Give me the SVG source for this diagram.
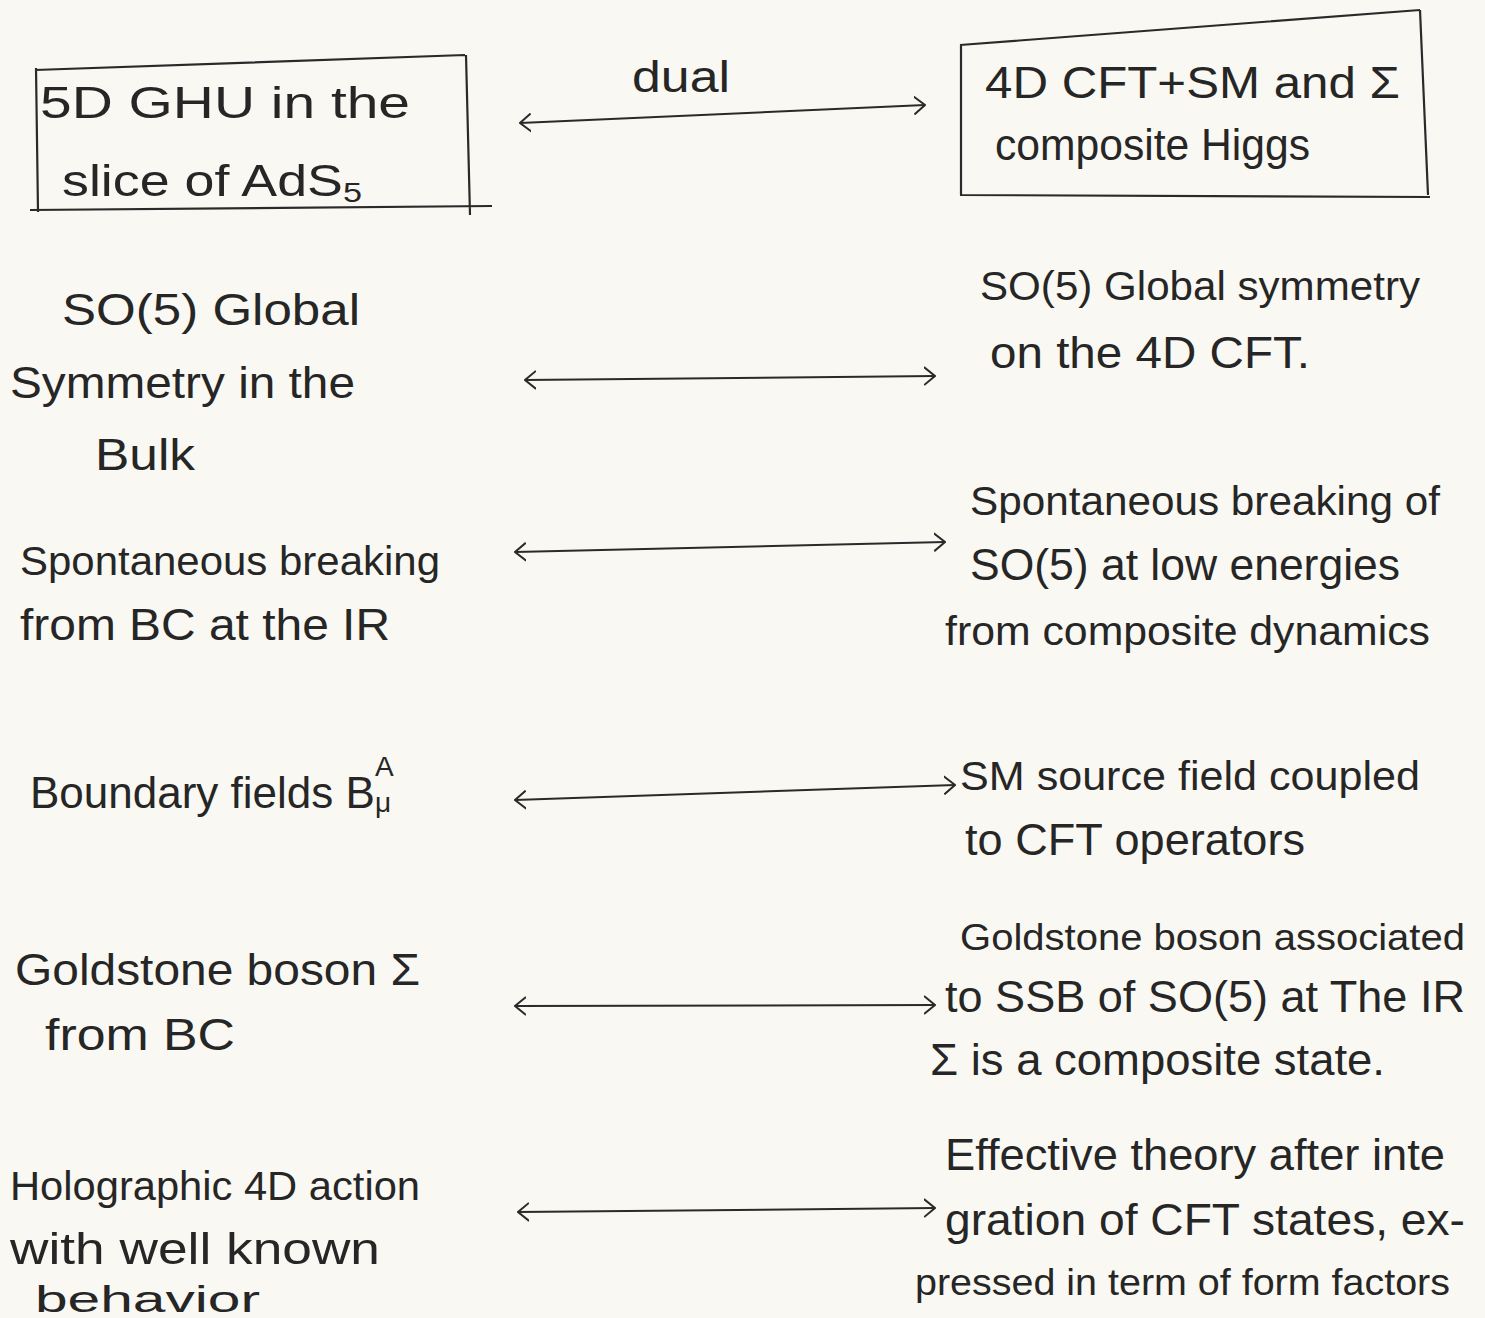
<svg xmlns="http://www.w3.org/2000/svg" width="1485" height="1318" viewBox="0 0 1485 1318">
<style>
text{font-family:"Liberation Sans","DejaVu Sans",sans-serif;font-size:44px;fill:#262626;}
.m{font-size:40px;}
.s{font-size:37px;}
.box{fill:none;stroke:#2a2a2a;stroke-width:2.2;stroke-linejoin:round;}
.conn{fill:none;stroke:#2a2a2a;stroke-width:2;}
.sm{font-size:28px;}
</style>
<defs>
<marker id="chev" viewBox="0 0 12 20" refX="11" refY="10" markerWidth="12" markerHeight="20" markerUnits="userSpaceOnUse" orient="auto-start-reverse">
<path d="M0,1 L11,10 L0,19" fill="none" stroke="#2a2a2a" stroke-width="2"/>
</marker>
</defs>
<rect width="1485" height="1318" fill="#faf8f2"/>

<g id="connectors">
<path class="conn" d="M520,123 L925,105" marker-start="url(#chev)" marker-end="url(#chev)"/>
<text x="632" y="92" textLength="98" lengthAdjust="spacingAndGlyphs">dual</text>
<path class="conn" d="M525,380 L935,376" marker-start="url(#chev)" marker-end="url(#chev)"/>
<path class="conn" d="M515,552 L945,542" marker-start="url(#chev)" marker-end="url(#chev)"/>
<path class="conn" d="M515,800 L955,785" marker-start="url(#chev)" marker-end="url(#chev)"/>
<path class="conn" d="M515,1006 L935,1005" marker-start="url(#chev)" marker-end="url(#chev)"/>
<path class="conn" d="M518,1212 L935,1208" marker-start="url(#chev)" marker-end="url(#chev)"/>
</g>

<g id="node-5d-ghu">
<path class="box" d="M35,70 L465,55 M36,68 L38,212 M466,55 L470,215 M30,210 L492,206"/>
<text x="40" y="118" textLength="370" lengthAdjust="spacingAndGlyphs">5D GHU in the</text>
<text x="62" y="196" textLength="300" lengthAdjust="spacingAndGlyphs">slice of AdS<tspan class="sm" dy="6">5</tspan></text>
</g>

<g id="node-4d-cft">
<path class="box" d="M960,45 L1420,10 M961,45 L961,195 M1420,10 L1428,195 M960,195 L1430,197"/>
<text x="985" y="98" textLength="415" lengthAdjust="spacingAndGlyphs">4D CFT+SM and Σ</text>
<text x="995" y="160" textLength="315" lengthAdjust="spacingAndGlyphs">composite Higgs</text>
</g>

<g id="node-so5-bulk">
<text x="62" y="325" textLength="298" lengthAdjust="spacingAndGlyphs">SO(5) Global</text>
<text x="10" y="398" textLength="345" lengthAdjust="spacingAndGlyphs">Symmetry in the</text>
<text x="95" y="470" textLength="100" lengthAdjust="spacingAndGlyphs">Bulk</text>
</g>

<g id="node-so5-cft">
<text class="m" x="980" y="300" textLength="440" lengthAdjust="spacingAndGlyphs">SO(5) Global symmetry</text>
<text x="990" y="368" textLength="320" lengthAdjust="spacingAndGlyphs">on the 4D CFT.</text>
</g>

<g id="node-ssb-bc">
<text class="m" x="20" y="575" textLength="420" lengthAdjust="spacingAndGlyphs">Spontaneous breaking</text>
<text x="20" y="640" textLength="370" lengthAdjust="spacingAndGlyphs">from BC at the IR</text>
</g>

<g id="node-ssb-cft">
<text class="m" x="970" y="515" textLength="470" lengthAdjust="spacingAndGlyphs">Spontaneous breaking of</text>
<text x="970" y="580" textLength="430" lengthAdjust="spacingAndGlyphs">SO(5) at low energies</text>
<text class="m" x="945" y="645" textLength="485" lengthAdjust="spacingAndGlyphs">from composite dynamics</text>
</g>

<g id="node-boundary">
<text x="30" y="808">Boundary fields B<tspan class="sm" dy="4">μ</tspan><tspan class="sm" dx="-16" dy="-36">A</tspan></text>
</g>

<g id="node-sm-source">
<text class="m" x="960" y="790" textLength="460" lengthAdjust="spacingAndGlyphs">SM source field coupled</text>
<text x="965" y="855" textLength="340" lengthAdjust="spacingAndGlyphs">to CFT operators</text>
</g>

<g id="node-goldstone-bc">
<text x="15" y="985" textLength="405" lengthAdjust="spacingAndGlyphs">Goldstone boson Σ</text>
<text x="45" y="1050" textLength="190" lengthAdjust="spacingAndGlyphs">from BC</text>
</g>

<g id="node-goldstone-cft">
<text class="s" x="960" y="950" textLength="505" lengthAdjust="spacingAndGlyphs">Goldstone boson associated</text>
<text x="945" y="1012" textLength="520" lengthAdjust="spacingAndGlyphs">to SSB of SO(5) at The IR</text>
<text x="930" y="1075" textLength="455" lengthAdjust="spacingAndGlyphs">Σ is a composite state.</text>
</g>

<g id="node-holographic">
<text class="m" x="10" y="1200" textLength="410" lengthAdjust="spacingAndGlyphs">Holographic 4D action</text>
<text x="10" y="1264" textLength="370" lengthAdjust="spacingAndGlyphs">with well known</text>
<text class="s" x="35" y="1312" textLength="225" lengthAdjust="spacingAndGlyphs">behavior</text>
</g>

<g id="node-effective">
<text x="945" y="1170" textLength="500" lengthAdjust="spacingAndGlyphs">Effective theory after inte</text>
<text x="945" y="1235" textLength="520" lengthAdjust="spacingAndGlyphs">gration of CFT states, ex-</text>
<text class="s" x="915" y="1295" textLength="535" lengthAdjust="spacingAndGlyphs">pressed in term of form factors</text>
</g>
</svg>
